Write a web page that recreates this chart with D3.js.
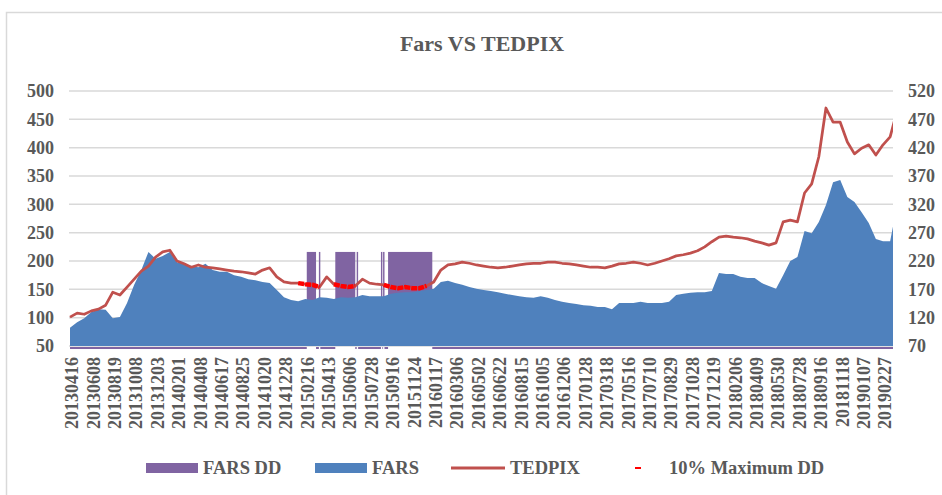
<!DOCTYPE html>
<html>
<head>
<meta charset="utf-8">
<script src="https://cdn.jsdelivr.net/npm/d3@7"></script>
<style>
  body { margin: 0; background: #fff; }
  text { font-family: "Liberation Serif", "Times New Roman", serif; font-weight: bold; fill: #595959; }
</style>
</head>
<body>
<div id="chart"></div>
<script>
// DATA
// tick labels, one every 3 samples
const tickLabels = [
  "20130416","20130608","20130819","20131008","20131203","20140201","20140408","20140617",
  "20140825","20141020","20141228","20150216","20150413","20150606","20150728","20150916",
  "20151124","20160117","20160306","20160502","20160622","20160815","20161005","20161206",
  "20170128","20170318","20170516","20170710","20170829","20171028","20171219","20180206",
  "20180409","20180530","20180728","20180916","20181118","20190107","20190227"
];

// FARS price (left axis), sampled
const fars = [
  82, 92, 99, 110, 115, 114, 99, 101, 126, 158,
  184, 216, 204, 209, 216, 198, 195, 191, 189, 195,
  184, 181, 181, 175, 172, 168, 166, 163, 161, 149,
  136, 131, 129, 133, 131, 136, 135, 133, 136, 135,
  136, 140, 138, 138, 138, 142, 144, 145, 145, 147,
  149, 151, 163, 165, 161, 158, 154, 151, 149, 147,
  145, 142, 140, 138, 136, 135, 138, 135, 131, 128,
  126, 124, 122, 121, 119, 119, 115, 126, 126, 126,
  128, 126, 126, 126, 128, 140, 142, 144, 145, 145,
  147, 179, 177, 177, 172, 170, 170, 161, 156, 151,
  175, 200, 207, 253, 249, 269, 299, 339, 343, 313,
  304, 286, 267, 239, 235, 235, 299
];

// TEDPIX (right axis), same samples
const tedpix = [
  121, 128, 126, 132, 135, 142, 165, 160, 174, 188,
  202, 211, 227, 236, 239, 220, 215, 209, 213, 209,
  208, 206, 204, 202, 201, 199, 197, 204, 208, 192,
  183, 181, 181, 179, 178, 174, 192, 179, 176, 174,
  176, 188, 181, 179, 178, 174, 172, 174, 172, 172,
  176, 183, 204, 213, 215, 218, 216, 213, 211, 209,
  208, 209, 211, 213, 215, 216, 216, 218, 218, 216,
  215, 213, 211, 209, 209, 208, 211, 215, 216, 218,
  216, 213, 216, 220, 224, 229, 231, 234, 238, 245,
  254, 262, 264, 262, 261, 259, 255, 252, 248, 252,
  289, 292, 289, 340, 356, 404, 490, 465, 465, 430,
  409, 419, 425, 407, 425, 439, 486
];

// FARS drawdown periods (sample index) and bar level
const ddFrom = [33.2, 34.9, 37.2, 40.2, 43.6, 43.9, 44.6];
const ddTo   = [34.5, 35.1, 40.0, 40.4, 43.8, 44.1, 50.8];
const ddLevel = 216;

// samples flagged "10% Maximum DD" on TEDPIX
const maxDdFrom = [32, 37, 44];
const maxDdTo   = [35, 40, 50];

const leftTicks  = [50, 100, 150, 200, 250, 300, 350, 400, 450, 500];
const rightTicks = [70, 120, 170, 220, 270, 320, 370, 420, 470, 520];

// COLORS
const cPurple = "#8064A2";
const cBlue   = "#4F81BD";
const cRed    = "#C0504D";
const cGrid   = "#D9D9D9";

function render() {
    const width  = 942;
    const height = 495;
    const plot   = { left: 69, right: 893, top: 91, bottom: 346 };

    const svg = d3.select('#chart').append('svg')
        .attr('width', width)
        .attr('height', height);

    // chart frame
    svg.append('rect')
        .attr('x', 6.5).attr('y', 12.5)
        .attr('width', 960).attr('height', 500)
        .attr('fill', 'none')
        .attr('stroke', cGrid)
        .attr('stroke-width', 1.5);

    const x  = d3.scaleLinear().domain([0, 114]).range([70, 883]);
    const yL = d3.scaleLinear().domain([50, 500]).range([plot.bottom, plot.top]);
    const yR = d3.scaleLinear().domain([70, 520]).range([plot.bottom, plot.top]);

    svg.append('defs').append('clipPath').attr('id', 'plotclip')
        .append('rect')
        .attr('x', plot.left).attr('y', 0)
        .attr('width', plot.right - plot.left).attr('height', plot.bottom + 4);

    // title
    svg.append('text')
        .attr('x', 482).attr('y', 51)
        .attr('text-anchor', 'middle')
        .style('font-size', '22px')
        .text('Fars VS TEDPIX');

    // gridlines
    svg.append('g').selectAll('line')
        .data(leftTicks)
        .enter().append('line')
            .attr('x1', plot.left).attr('x2', plot.right)
            .attr('y1', d => yL(d)).attr('y2', d => yL(d))
            .attr('stroke', cGrid)
            .attr('stroke-width', 1.5);

    const g = svg.append('g').attr('clip-path', 'url(#plotclip)');

    // FARS DD columns
    g.selectAll('rect.dd')
        .data(ddFrom.map((f, i) => ({ from: f, to: ddTo[i] })))
        .enter().append('rect')
            .attr('class', 'dd')
            .attr('x', d => x(d.from))
            .attr('width', d => Math.max(1.2, x(d.to) - x(d.from)))
            .attr('y', yL(ddLevel))
            .attr('height', yL(50) - yL(ddLevel))
            .attr('fill', cPurple);

    // FARS area
    const area = d3.area()
        .x((d, i) => x(i))
        .y0(yL(50))
        .y1(d => yL(d));

    g.append('path')
        .datum(fars)
        .attr('d', area)
        .attr('fill', cBlue);

    // thin DD strip under the axis where no drawdown
    const gaps = [];
    let start = 0;
    ddFrom.forEach((f, i) => {
        if (f > start) gaps.push([start, f]);
        start = Math.max(start, ddTo[i]);
    });
    gaps.push([start, fars.length - 1]);

    g.selectAll('rect.strip')
        .data(gaps)
        .enter().append('rect')
            .attr('class', 'strip')
            .attr('x', d => x(d[0]))
            .attr('width', d => x(d[1]) - x(d[0]))
            .attr('y', yL(50) + 1)
            .attr('height', 2)
            .attr('fill', cPurple);

    // TEDPIX line
    const line = d3.line()
        .x(d => x(d.i))
        .y(d => yR(d.v));

    const tedPts = tedpix.map((v, i) => ({ i, v }));

    g.append('path')
        .datum(tedPts)
        .attr('d', line)
        .attr('fill', 'none')
        .attr('stroke', cRed)
        .attr('stroke-width', 2.75)
        .attr('stroke-linejoin', 'round');

    // 10% max DD markers
    g.selectAll('path.maxdd')
        .data(maxDdFrom.map((f, j) => tedPts.slice(f, maxDdTo[j] + 1)))
        .enter().append('path')
            .attr('class', 'maxdd')
            .attr('d', line)
            .attr('fill', 'none')
            .attr('stroke', '#FF0000')
            .attr('stroke-width', 4.5)
            .attr('stroke-dasharray', '6,1');

    // left axis labels
    svg.append('g').selectAll('text')
        .data(leftTicks)
        .enter().append('text')
            .attr('x', 54)
            .attr('y', d => yL(d))
            .attr('dy', '0.35em')
            .attr('text-anchor', 'end')
            .style('font-size', '18px')
            .text(d => d);

    // right axis labels
    svg.append('g').selectAll('text')
        .data(rightTicks)
        .enter().append('text')
            .attr('x', 908)
            .attr('y', d => yR(d))
            .attr('dy', '0.35em')
            .attr('text-anchor', 'start')
            .style('font-size', '18px')
            .text(d => d);

    // x labels
    svg.append('g').selectAll('text')
        .data(tickLabels)
        .enter().append('text')
            .attr('transform', (d, i) => `translate(${x(i * 3) + 2},357) rotate(-90)`)
            .attr('dy', '0.35em')
            .attr('text-anchor', 'end')
            .style('font-size', '18px')
            .text(d => d);

    // legend
    const legend = svg.append('g').attr('transform', 'translate(0,468)');
    legend.append('rect').attr('x', 146).attr('y', -5).attr('width', 52).attr('height', 10).attr('fill', cPurple);
    legend.append('text').attr('x', 203).attr('dy', '0.35em').style('font-size', '18.5px').text('FARS DD');
    legend.append('rect').attr('x', 315).attr('y', -5).attr('width', 52).attr('height', 10).attr('fill', cBlue);
    legend.append('text').attr('x', 372).attr('dy', '0.35em').style('font-size', '18.5px').text('FARS');
    legend.append('line').attr('x1', 451).attr('x2', 505).attr('y1', 0).attr('y2', 0)
        .attr('stroke', cRed).attr('stroke-width', 3);
    legend.append('text').attr('x', 510).attr('dy', '0.35em').style('font-size', '18.5px').text('TEDPIX');
    legend.append('line').attr('x1', 635).attr('x2', 641).attr('y1', 0).attr('y2', 0)
        .attr('stroke', '#FF0000').attr('stroke-width', 2);
    legend.append('text').attr('x', 669).attr('dy', '0.35em').style('font-size', '18.5px').text('10% Maximum DD');
}

window.onload = render;
</script>
</body>
</html>
